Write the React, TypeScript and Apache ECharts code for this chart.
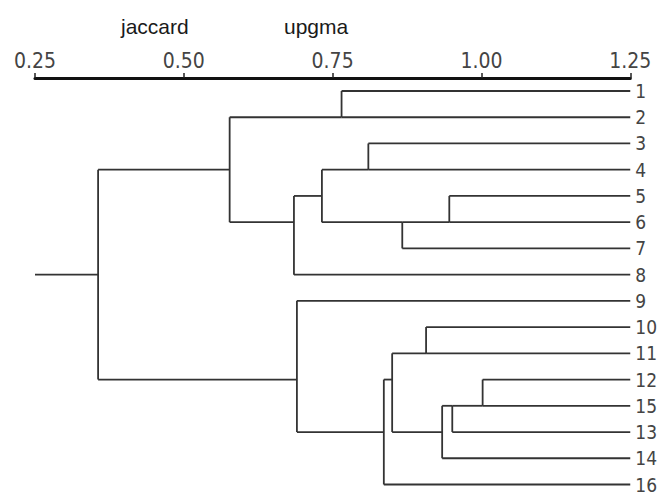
import React, { useEffect, useRef } from "react";
import * as echarts from "echarts";

// Leaf labels in display order (top to bottom)
const leaves = ["1", "2", "3", "4", "5", "6", "7", "8", "9", "10", "11", "12", "15", "13", "14", "16"];

// UPGMA merges (children: leaf label or node id "nK"), with merge heights (jaccard)
const mergeLeft = ["1", "3", "5", "n2", "n1", "n4", "n0", "10", "12", "n8", "n9", "n7", "n11", "9", "n6"];
const mergeRight = ["2", "4", "6", "7", "n3", "8", "n5", "11", "15", "13", "14", "n10", "16", "n12", "n13"];
const mergeHeight = [0.765, 0.81, 0.946, 0.867, 0.732, 0.685, 0.577, 0.907, 1.002, 0.951, 0.934, 0.85, 0.836, 0.69, 0.356];

const axisMin = 0.25;
const axisMax = 1.25;
const axisStep = 0.25;
const titles = ["jaccard", "upgma"];

type Seg = [number, number, number, number];

function buildSegments(): Seg[] {
  const pos: Record<string, { x: number; y: number }> = {};
  leaves.forEach((l, i) => (pos[l] = { x: axisMax, y: i }));
  const segs: Seg[] = [];
  let last = "";
  mergeHeight.forEach((h, k) => {
    const a = pos[mergeLeft[k]];
    const b = pos[mergeRight[k]];
    segs.push([h, a.y, h, b.y]);
    segs.push([h, a.y, a.x, a.y]);
    segs.push([h, b.y, b.x, b.y]);
    const id = "n" + k;
    pos[id] = { x: h, y: (a.y + b.y) / 2 };
    last = id;
  });
  const root = pos[last];
  segs.push([axisMin, root.y, root.x, root.y]);
  return segs;
}

export default function App() {
  const ref = useRef<HTMLDivElement>(null);
  useEffect(() => {
    if (!ref.current) return;
    const chart = echarts.init(ref.current, undefined, { renderer: "svg" });
    const segs = buildSegments();
    const labelFont = "'DejaVu Sans Condensed', 'Liberation Sans', sans-serif";
    const titleStyle = {
      fontFamily: "'Liberation Sans', Arial, sans-serif",
      fontSize: 21,
      fontWeight: "normal",
      color: "#1a1a1a",
    };
    chart.setOption({
      animation: false,
      backgroundColor: "#ffffff",
      title: [
        { text: titles[0], left: 116, top: 11, textStyle: titleStyle },
        { text: titles[1], left: 279, top: 11, textStyle: titleStyle },
      ],
      grid: { left: 35, right: 29, top: 91, bottom: 8, containLabel: false },
      xAxis: {
        type: "value",
        position: "top",
        offset: 13,
        min: axisMin,
        max: axisMax,
        interval: axisStep,
        axisLine: { show: true, lineStyle: { color: "#111", width: 3 } },
        axisTick: { show: true, length: 5, lineStyle: { color: "#222", width: 1.5 } },
        splitLine: { show: false },
        axisLabel: {
          margin: 7,
          fontSize: 21,
          fontFamily: labelFont,
          color: "#444",
          formatter: (v: number) => v.toFixed(2),
        },
      },
      yAxis: {
        type: "category",
        data: leaves,
        inverse: true,
        boundaryGap: false,
        position: "right",
        axisLine: { show: false },
        axisTick: { show: false },
        splitLine: { show: false },
        axisLabel: { margin: 5, fontSize: 19, lineHeight: 16, fontFamily: labelFont, color: "#444" },
      },
      series: [
        {
          type: "custom",
          coordinateSystem: "cartesian2d",
          data: segs,
          clip: false,
          renderItem: (params: any, api: any) => {
            const p1 = api.coord([api.value(0), api.value(1)]);
            const p2 = api.coord([api.value(2), api.value(3)]);
            return {
              type: "line",
              shape: { x1: p1[0], y1: p1[1], x2: p2[0], y2: p2[1] },
              style: { stroke: "#333", lineWidth: 1.8 },
            };
          },
        },
      ],
    });
    return () => chart.dispose();
  }, []);
  return <div ref={ref} style={{ position: "absolute", left: 0, top: 0, width: 660, height: 494 }} />;
}
